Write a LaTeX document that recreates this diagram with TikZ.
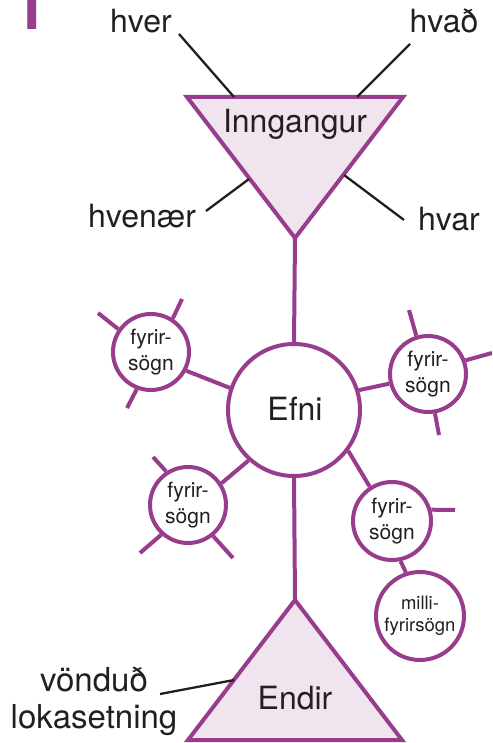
\documentclass[tikz,border=0pt]{standalone}
\usepackage{fontspec}
\setmainfont{TeX Gyre Heros}
\definecolor{purp}{HTML}{983D8E}
\definecolor{pfill}{HTML}{F0E4EF}
\definecolor{ink}{HTML}{231F20}
\begin{document}
\begin{tikzpicture}[x=1pt,y=-1pt,
  plink/.style={draw=purp,line width=4pt},
  blink/.style={draw=ink,line width=2.3pt},
  tri/.style={draw=purp,fill=pfill,line width=4pt,line join=miter},
  big/.style={text=ink,inner sep=0pt,font=\fontsize{32}{38}\selectfont},
  sub/.style={circle,draw=purp,fill=white,line width=4pt,inner sep=0pt,minimum size=76pt,text=ink,align=center,font=\fontsize{21}{26}\selectfont},
  ]
\useasboundingbox (0,0) rectangle (492,743);
\clip (0,0) rectangle (492,743);
% digit
\node[anchor=base west,inner sep=0pt,text=purp,font=\fontsize{64}{64}\selectfont\bfseries] (num) at (12,30) {1};
% triangles
\draw[tri] (187,97) -- (403,97) -- (295,238) -- cycle;
\draw[tri] (295,600) -- (402,740) -- (188,740) -- cycle;
\coordinate (apexIn) at (295,238);
\coordinate (apexEnd) at (295,600);
% main nodes
\node[circle,draw=purp,fill=white,line width=4pt,minimum size=132pt,inner sep=0pt] (efni) at (294,410) {};
\node[big,anchor=base] (efnit) at (295,420) {Efni};
\node[big,anchor=base] (inng) at (295,133) {Inngangur};
\node[big,anchor=base] (endir) at (295,709) {Endir};
% labels
\node[big,anchor=base] (hver) at (141,33) {hver};
\node[big,anchor=base] (hvad) at (444,33) {hvað};
\node[big,anchor=base] (hvenaer) at (142,227) {hvenær};
\node[big,anchor=base] (hvar) at (449,230) {hvar};
\node[big,align=center,font=\fontsize{33}{37}\selectfont] (vond) at (94,701) {vönduð\\lokasetning};
% label connector coordinates
\coordinate (hverA) at (179,34); \coordinate (hverB) at (234,97);
\coordinate (hvadA) at (410,44); \coordinate (hvadB) at (357,97);
\coordinate (hvenA) at (206,211); \coordinate (hvenB) at (249,179);
\coordinate (hvarA) at (404,220); \coordinate (hvarB) at (344,175);
\coordinate (vondA) at (160,694); \coordinate (vondB) at (234,680);
\draw[blink] (hverA) -- (hverB);
\draw[blink] (hvadA) -- (hvadB);
\draw[blink] (hvenA) -- (hvenB);
\draw[blink] (hvarA) -- (hvarB);
\draw[blink] (vondA) -- (vondB);
% spine
\draw[plink] (apexIn) -- (efni.north);
\draw[plink] (efni.south) -- (apexEnd);
% sub headings
\node[sub] (f1) at (151,352) {fyrir-\\sögn};
\node[sub] (f2) at (428,374) {fyrir-\\sögn};
\node[sub] (f3) at (188,505) {fyrir-\\sögn};
\node[sub,minimum size=78pt] (f4) at (392,521) {fyrir-\\sögn};
\node[sub,minimum size=88pt,font=\fontsize{18.5}{22}\selectfont] (milli) at (420,616) {milli-\\fyrirsögn};
% connectors
\draw[plink] (f1.-28) -- (efni.161);
\draw[plink] (efni.17) -- (f2.-166);
\draw[plink] (f3.33) -- (efni.-132);
\draw[plink] (efni.-37) -- (f4.123);
\draw[plink] (f4.-78) -- (milli.108);
% spokes
\coordinate (s1a) at (98,313);  \draw[plink] (f1.145) -- (s1a);
\coordinate (s1b) at (182,299); \draw[plink] (f1.57) -- (s1b);
\coordinate (s1c) at (127,408); \draw[plink] (f1.-111) -- (s1c);
\coordinate (s2a) at (409,310); \draw[plink] (f2.107) -- (s2a);
\coordinate (s2b) at (492,353); \draw[plink] (f2.20) -- (s2b);
\coordinate (s2c) at (439,435); \draw[plink] (f2.-80) -- (s2c);
\coordinate (s3a) at (153,457); \draw[plink] (f3.123) -- (s3a);
\coordinate (s3b) at (140,553); \draw[plink] (f3.-132) -- (s3b);
\coordinate (s3c) at (233,558); \draw[plink] (f3.-51) -- (s3c);
\coordinate (s4a) at (455,510); \draw[plink] (f4.16) -- (s4a);
\end{tikzpicture}
\end{document}
